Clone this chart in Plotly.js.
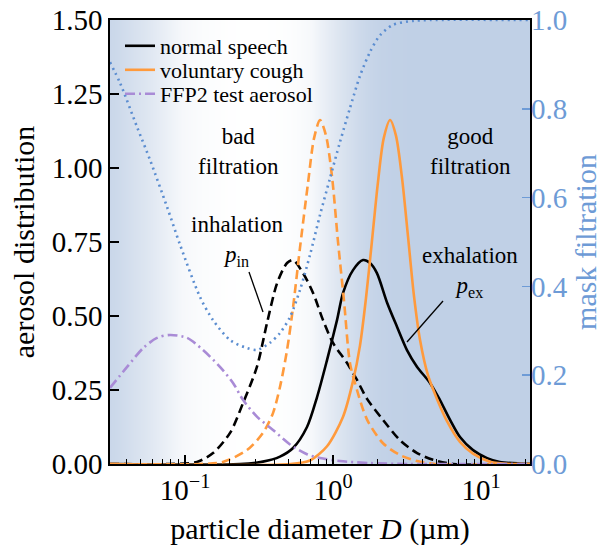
<!DOCTYPE html>
<html>
<head>
<meta charset="utf-8">
<script src="https://cdn.plot.ly/plotly-3.0.1.min.js"></script>
<style>html,body{margin:0;padding:0;background:#fff;}#chart{width:613px;height:546px;}</style>
</head>
<body>
<div id="chart"></div>
<script>
// ---- data ----
// particle diameter D (µm) and aerosol distribution values
var speechD = [0.0311, 0.235, 0.336, 0.438, 0.537, 0.667, 0.780, 0.911, 1.064, 1.169, 1.365, 1.595, 1.778, 1.98, 2.32, 2.71, 3.16, 3.70, 4.52, 5.28, 6.18, 7.21, 8.83, 10.99, 13.4, 21.4];
var speechExY = [0, 0, 0.008, 0.025, 0.054, 0.125, 0.226, 0.351, 0.486, 0.578, 0.655, 0.689, 0.679, 0.645, 0.545, 0.463, 0.385, 0.328, 0.274, 0.216, 0.149, 0.091, 0.047, 0.020, 0.007, 0];

var speechInD = [0.0311, 0.0792, 0.1205, 0.1546, 0.2015, 0.2466, 0.306, 0.358, 0.419, 0.489, 0.537, 0.627, 0.733, 0.856, 1.0, 1.244, 1.452, 1.698, 2.177, 2.84, 3.70, 4.74, 6.5, 21.4];
var speechInY = [0, 0, 0.007, 0.037, 0.105, 0.206, 0.328, 0.476, 0.611, 0.679, 0.689, 0.645, 0.578, 0.486, 0.409, 0.341, 0.284, 0.22, 0.149, 0.08, 0.037, 0.014, 0, 0];

var coughExD = [0.0311, 0.512, 0.699, 0.911, 1.169, 1.365, 1.521, 1.67, 1.83, 2.01, 2.20, 2.43, 2.66, 2.92, 3.21, 3.52, 3.87, 4.38, 5.04, 5.89, 7.21, 8.83, 11.5, 15.7, 21.4];
var coughExY = [0, 0, 0.012, 0.06, 0.16, 0.28, 0.40, 0.56, 0.75, 0.95, 1.10, 1.162, 1.11, 0.97, 0.77, 0.57, 0.42, 0.30, 0.22, 0.145, 0.075, 0.035, 0.008, 0, 0];

var coughInD = [0.0311, 0.126, 0.180, 0.262, 0.336, 0.393, 0.438, 0.489, 0.537, 0.598, 0.678, 0.744, 0.817, 0.896, 0.985, 1.081, 1.187, 1.303, 1.452, 1.698, 2.177, 2.84, 3.70, 4.88, 21.4];
var coughInY = [0, 0, 0.007, 0.047, 0.105, 0.172, 0.26, 0.385, 0.53, 0.73, 0.95, 1.10, 1.162, 1.11, 0.97, 0.75, 0.55, 0.34, 0.25, 0.15, 0.07, 0.03, 0.01, 0, 0];

var ffp2D = [0.0311, 0.0406, 0.0522, 0.0646, 0.0792, 0.1034, 0.1323, 0.1722, 0.211, 0.247, 0.306, 0.393, 0.512, 0.667, 0.817, 1.114, 1.778, 3.31, 21.4];
var ffp2Y = [0.257, 0.328, 0.392, 0.426, 0.436, 0.426, 0.385, 0.328, 0.274, 0.216, 0.16, 0.115, 0.066, 0.033, 0.020, 0.010, 0.003, 0, 0];

// mask filtration (right axis)
var filtD = [0.0311, 0.0364, 0.0474, 0.0580, 0.0756, 0.0925, 0.1263, 0.1546, 0.2015, 0.2625, 0.306, 0.375, 0.438, 0.512, 0.598, 0.699, 0.817, 0.955, 1.114, 1.303, 1.521, 1.778, 2.08, 2.54, 3.47, 4.52, 21.4];
var filtF = [0.905, 0.858, 0.759, 0.685, 0.579, 0.494, 0.376, 0.324, 0.279, 0.261, 0.257, 0.273, 0.295, 0.331, 0.392, 0.471, 0.561, 0.644, 0.725, 0.802, 0.874, 0.928, 0.966, 0.989, 0.998, 1.0, 1.0];

var seriesNames = ['normal speech', 'voluntary cough', 'FFP2 test aerosol'];
var xTickVals = [0.1, 1, 10];
var xTickText = ['10<sup>\u22121</sup>', '10<sup>0</sup>', '10<sup>1</sup>'];
var xMinorVals = [0.04, 0.05, 0.06, 0.07, 0.08, 0.09, 0.2, 0.3, 0.4, 0.5, 0.6, 0.7, 0.8, 0.9, 2, 3, 4, 5, 6, 7, 8, 9, 20];
var yLeftTicks = [0, 0.25, 0.5, 0.75, 1.0, 1.25, 1.5];
var yRightTicks = [0, 0.2, 0.4, 0.6, 0.8, 1.0];

// ---- styling ----
var FONT = 'Liberation Serif, Times New Roman, serif';
var BLACK = '#000000';
var ORANGE = '#ff9a3c';
var PURPLE = '#a98bd6';
var BLUE = '#5b8dd0';
var BLUE_TXT = '#6e9bd6';
var LW = 2.6;

var fMin = Math.min.apply(null, filtF);
var fMax = Math.max.apply(null, filtF);

var traces = [
  {
    type: 'heatmap', x: filtD, y: [-1, 3], z: [filtF, filtF],
    zsmooth: 'best', zmin: fMin, zmax: fMax, showscale: false, hoverinfo: 'skip',
    colorscale: [[0, '#ffffff'], [0.3, 'rgb(246,248,251)'], [0.6, 'rgb(222,230,241)'], [1, 'rgb(192,208,230)']],
    xaxis: 'x', yaxis: 'y', showlegend: false
  },
  { type: 'scatter', mode: 'lines', x: speechD, y: speechExY, name: seriesNames[0],
    line: {color: BLACK, width: LW, shape: 'spline', smoothing: 0.8}, legend: 'legend' },
  { type: 'scatter', mode: 'lines', x: speechInD, y: speechInY, showlegend: false,
    line: {color: BLACK, width: LW, dash: '9px,5px', shape: 'spline', smoothing: 0.8} },
  { type: 'scatter', mode: 'lines', x: coughExD, y: coughExY, name: seriesNames[1],
    line: {color: ORANGE, width: LW, shape: 'spline', smoothing: 0.8}, legend: 'legend2' },
  { type: 'scatter', mode: 'lines', x: coughInD, y: coughInY, showlegend: false,
    line: {color: ORANGE, width: LW, dash: '9px,5px', shape: 'spline', smoothing: 0.8} },
  { type: 'scatter', mode: 'lines', x: ffp2D, y: ffp2Y, name: seriesNames[2],
    line: {color: PURPLE, width: LW, dash: '10px,4px,2px,4px', shape: 'spline', smoothing: 0.8}, legend: 'legend3' },
  { type: 'scatter', mode: 'lines', x: filtD, y: filtF, showlegend: false, yaxis: 'y2',
    line: {color: BLUE, width: 2.6, dash: '2px,4px', shape: 'spline', smoothing: 0.8} }
];

function P(px) { return (px - 110) / 420; }   // paper x from pixel
function Q(py) { return (464 - py) / 444; }   // paper y from pixel

function legendAt(py) {
  return { x: P(120), y: Q(py), xanchor: 'left', yanchor: 'middle', bgcolor: 'rgba(0,0,0,0)',
           borderwidth: 0, font: {family: FONT, size: 22, color: BLACK}, itemwidth: 30 };
}

function txt(s, px, py, size) {
  return { text: s, xref: 'paper', yref: 'paper', x: P(px), y: Q(py), showarrow: false,
           xanchor: 'center', yanchor: 'middle', font: {family: FONT, size: size || 24, color: BLACK} };
}

var layout = {
  width: 613, height: 546,
  margin: {l: 110, r: 83, t: 20, b: 82},
  paper_bgcolor: '#ffffff', plot_bgcolor: '#ffffff',
  font: {family: FONT, color: BLACK},
  xaxis: {
    type: 'log', range: [-1.507, 1.331], tickmode: 'array', tickvals: xTickVals, ticktext: xTickText,
    ticks: 'inside', ticklen: 9, tickwidth: 1.3, tickcolor: BLACK,
    showline: true, linecolor: BLACK, linewidth: 1.6, mirror: true,
    showgrid: false, zeroline: false,
    tickfont: {family: FONT, size: 29, color: BLACK},
    title: {text: 'particle diameter <i>D</i> (\u00b5m)', font: {family: FONT, size: 30, color: BLACK}, standoff: 12},
    minor: {tickmode: 'array', tickvals: xMinorVals, ticks: 'inside', ticklen: 5, tickwidth: 1.1, tickcolor: BLACK, showgrid: false}
  },
  yaxis: {
    range: [0, 1.5], tickmode: 'array', tickvals: yLeftTicks, tickformat: '.2f',
    ticks: 'inside', ticklen: 9, tickwidth: 1.3, tickcolor: BLACK,
    showline: true, linecolor: BLACK, linewidth: 1.6, mirror: true,
    showgrid: false, zeroline: false,
    tickfont: {family: FONT, size: 29, color: BLACK},
    title: {text: 'aerosol distribution', font: {family: FONT, size: 30, color: BLACK}, standoff: 8}
  },
  yaxis2: {
    overlaying: 'y', side: 'right', range: [0, 1], tickmode: 'array', tickvals: yRightTicks, tickformat: '.1f',
    ticks: 'inside', ticklen: 8, tickwidth: 1.5, tickcolor: BLUE_TXT,
    showline: false, showgrid: false, zeroline: false,
    tickfont: {family: FONT, size: 29, color: BLUE_TXT},
    title: {text: 'mask filtration', font: {family: FONT, size: 30, color: BLUE_TXT}, standoff: 8}
  },
  legend: legendAt(46),
  legend2: legendAt(70),
  legend3: legendAt(94),
  annotations: [
    txt('bad<br>filtration', 238, 151, 23),
    txt('good<br>filtration', 470, 151, 23),
    txt('inhalation<br><i>p</i><sub>in</sub>', 237, 241, 23),
    txt('exhalation<br><i>p</i><sub>ex</sub>', 470, 272, 23)
  ],
  shapes: [
    {type: 'line', xref: 'paper', yref: 'paper', x0: P(249), y0: Q(272), x1: P(263), y1: Q(312), line: {color: BLACK, width: 1.3}},
    {type: 'line', xref: 'paper', yref: 'paper', x0: P(443), y0: Q(301), x1: P(407), y1: Q(342), line: {color: BLACK, width: 1.3}}
  ]
};

Plotly.newPlot('chart', traces, layout, {displayModeBar: false, staticPlot: true});
</script>
</body>
</html>
